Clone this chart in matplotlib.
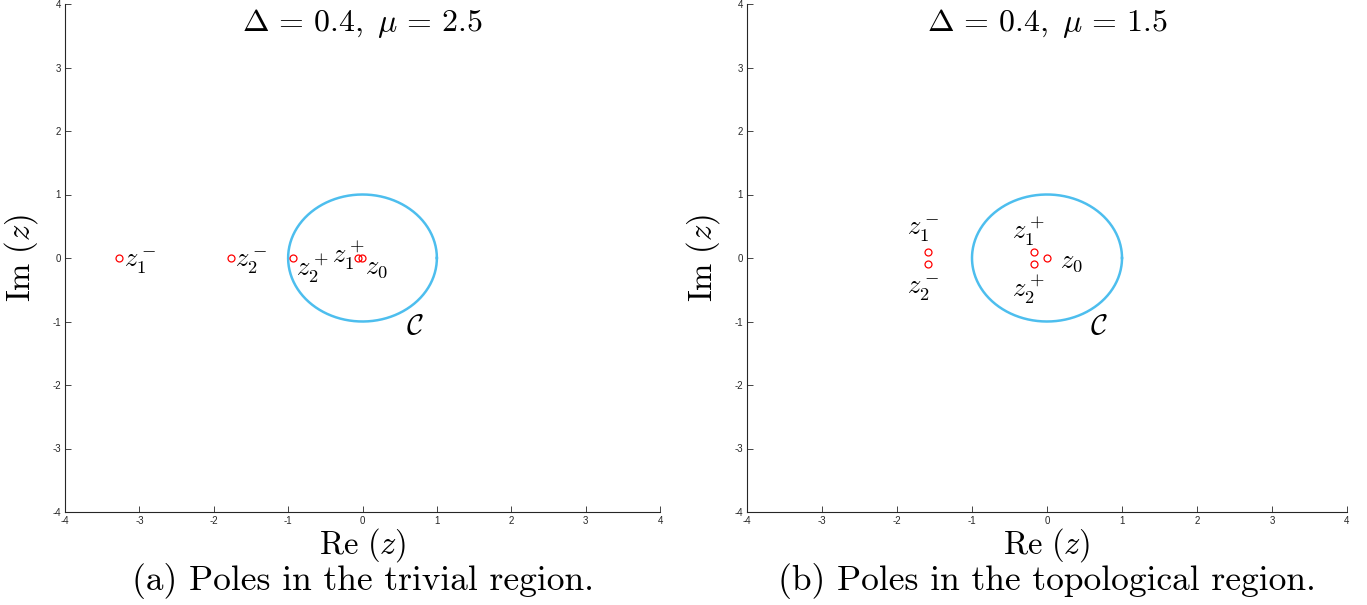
import numpy as np
import matplotlib
matplotlib.use('Agg')
import matplotlib.pyplot as plt

plt.rcParams['mathtext.fontset'] = 'cm'
plt.rcParams['axes.unicode_minus'] = False
plt.rcParams['font.family'] = ['Liberation Sans', 'DejaVu Sans']

# полюса (Re, Im) для двух случаев
poles_a_re = [-3.27, -1.77, -0.94, -0.06, -0.01]
poles_a_im = [0.0, 0.0, 0.0, 0.0, 0.0]
poles_b_re = [-1.59, -1.59, -0.17, -0.17, 0.0]
poles_b_im = [0.1, -0.1, 0.1, -0.1, 0.0]

# подписи полюсов: текст, x, y
labels_a = [(r'$z_1^-$', -3.21, -0.08), (r'$z_2^-$', -1.71, -0.08),
            (r'$z_2^+$', -0.89, -0.16), (r'$z_1^+$', -0.41, 0.04),
            (r'$z_0$', 0.03, -0.15)]
labels_b = [(r'$z_1^-$', -1.87, 0.42), (r'$z_2^-$', -1.87, -0.50),
            (r'$z_1^+$', -0.47, 0.42), (r'$z_2^+$', -0.47, -0.50),
            (r'$z_0$', 0.17, -0.06)]

titles = [r'$\Delta\,=\,0.4,\;\mu\,=\,2.5$', r'$\Delta\,=\,0.4,\;\mu\,=\,1.5$']
captions = ['(a) Poles in the trivial region.', '(b) Poles in the topological region.']
ticks = [-4, -3, -2, -1, 0, 1, 2, 3, 4]

circle_color = (0.301, 0.745, 0.933)
axis_color = (0.15, 0.15, 0.15)

fig = plt.figure(figsize=(13.67, 6.05), dpi=100)
W, H = 1367.0, 605.0
ax_a = fig.add_axes([65 / W, 1 - 512 / H, 595 / W, 508 / H])
ax_b = fig.add_axes([747 / W, 1 - 512 / H, 600 / W, 508 / H])

th = np.linspace(0, 2 * np.pi, 400)

for ax, re, im, labs, ttl, cap in [(ax_a, poles_a_re, poles_a_im, labels_a, titles[0], captions[0]),
                                   (ax_b, poles_b_re, poles_b_im, labels_b, titles[1], captions[1])]:
    ax.plot(np.cos(th), np.sin(th), color=circle_color, lw=1.8)
    ax.plot(re, im, 'o', mfc='none', mec='red', ms=5, mew=0.9, ls='none')
    for t, x, y in labs:
        ax.text(x, y, t, fontsize=19, ha='left', va='center')
    ax.text(0.58, -1.07, r'$\mathcal{C}$', fontsize=21, ha='left', va='center')
    ax.text(0.5, 0.962, ttl, transform=ax.transAxes, fontsize=23, ha='center', va='center')
    ax.set_xlim(-4, 4)
    ax.set_ylim(-4, 4)
    ax.set_xticks(ticks)
    ax.set_yticks(ticks)
    for s in ['top', 'right']:
        ax.spines[s].set_visible(False)
    for s in ['left', 'bottom']:
        ax.spines[s].set_color(axis_color)
        ax.spines[s].set_linewidth(0.8)
    ax.tick_params(direction='in', length=4, width=0.6, labelsize=7, colors=axis_color, pad=3)
    ax.set_xlabel(r'$\mathrm{Re}\ (z)$', fontsize=23.5, labelpad=0)
    ax.set_ylabel(r'$\mathrm{Im}\ (z)$', fontsize=23.5, labelpad=9)
    ax.text(0.5, -0.136, cap, transform=ax.transAxes, fontsize=25.5, ha='center', va='center',
            family='cmr10')

fig.savefig('out.png', dpi=100)
